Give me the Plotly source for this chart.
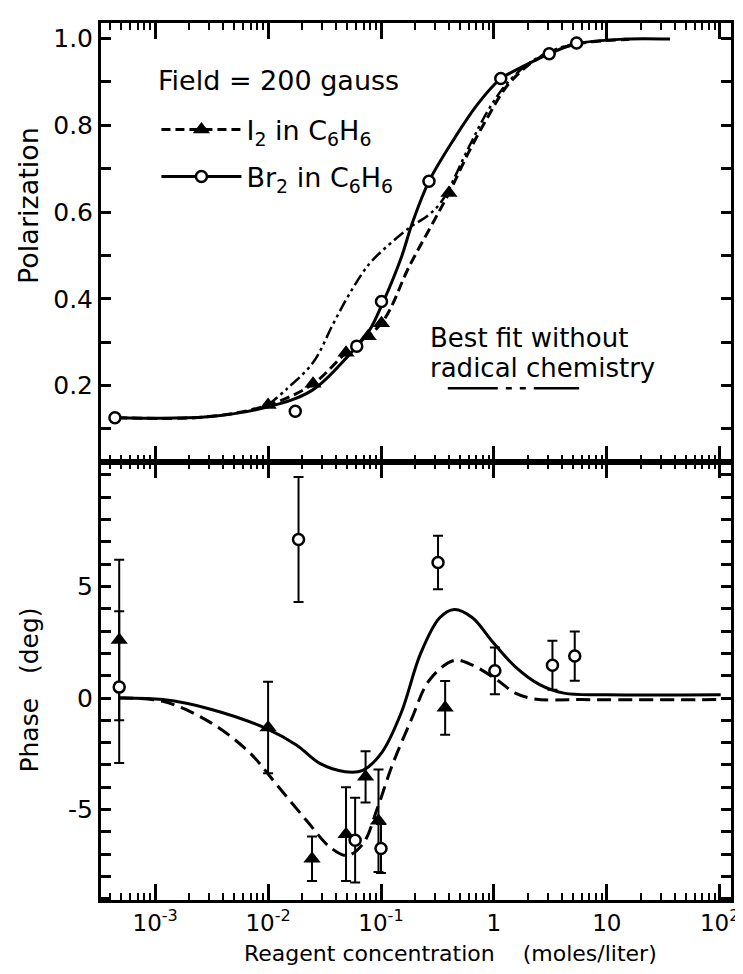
import plotly.graph_objects as go

# ---------------- data ----------------
# Top panel: polarization
br_pol_conc = [4.4e-4, 0.0174, 0.061, 0.101, 0.266, 1.15, 3.09, 5.4]
br_pol_val = [0.126, 0.141, 0.291, 0.394, 0.671, 0.908, 0.965, 0.990]
i2_pol_conc = [0.010, 0.025, 0.049, 0.077, 0.101, 0.40]
i2_pol_val = [0.155, 0.204, 0.276, 0.314, 0.344, 0.644]

br_fit_pol_conc = [4.6e-4, 2.9e-3, 1.0e-2, 2.45e-2, 5.1e-2, 7.8e-2, 0.105, 0.151, 0.19,
                   0.266, 0.447, 0.724, 1.12, 1.91, 3.09, 5.37, 14.5, 36.3]
br_fit_pol_val = [0.126, 0.128, 0.151, 0.189, 0.268, 0.325, 0.394, 0.495, 0.576,
                  0.671, 0.770, 0.850, 0.905, 0.939, 0.965, 0.988, 0.999, 0.999]
i2_fit_pol_conc = [4.6e-4, 2.9e-3, 1.0e-2, 2.5e-2, 4.9e-2, 0.101, 0.178, 0.302, 0.40,
                   0.603, 0.891, 1.29, 2.09, 3.47, 5.5, 9.1, 15.8]
i2_fit_pol_val = [0.126, 0.128, 0.155, 0.204, 0.276, 0.344, 0.475, 0.585, 0.644,
                  0.740, 0.821, 0.889, 0.942, 0.973, 0.988, 0.995, 0.998]
norad_fit_conc = [1.0e-2, 1.46e-2, 2.5e-2, 3.8e-2, 5.3e-2, 7.9e-2, 0.119, 0.179, 0.269,
                  0.353, 0.60, 0.89, 1.29, 2.09, 3.47, 5.5]
norad_fit_val = [0.155, 0.192, 0.253, 0.344, 0.413, 0.481, 0.526, 0.564, 0.595,
                 0.629, 0.750, 0.835, 0.895, 0.945, 0.975, 0.990]

# Bottom panel: phase (deg)
br_ph_conc = [4.8e-4, 0.0186, 0.059, 0.100, 0.32, 1.02, 3.3, 5.2]
br_ph_val = [0.49, 7.1, -6.37, -6.74, 6.07, 1.22, 1.47, 1.88]
br_ph_err = [3.4, 2.8, 1.9, 1.1, 1.2, 1.05, 1.1, 1.1]
i2_ph_conc = [4.8e-4, 0.010, 0.0245, 0.049, 0.073, 0.095, 0.37]
i2_ph_val = [2.6, -1.32, -7.2, -6.1, -3.53, -5.5, -0.44]
i2_ph_err = [3.6, 2.05, 1.0, 2.1, 1.15, 2.3, 1.2]

br_fit_ph_conc = [4.8e-4, 1.17e-3, 3.1e-3, 1.0e-2, 1.78e-2, 2.9e-2, 4.8e-2, 6.9e-2, 0.102,
                  0.151, 0.224, 0.331, 0.447, 0.646, 0.955, 1.55, 2.57, 4.17, 10, 102]
br_fit_ph_val = [0, -0.07, -0.5, -1.4, -2.1, -2.94, -3.3, -3.24, -2.43,
                 -0.66, 1.99, 3.6, 3.97, 3.6, 2.57, 1.4, 0.59, 0.22, 0.15, 0.15]
i2_fit_ph_conc = [4.8e-4, 1.17e-3, 3.1e-3, 6.8e-3, 1.2e-2, 2.2e-2, 3.55e-2, 5.0e-2, 6.9e-2,
                  9.3e-2, 0.126, 0.186, 0.269, 0.447, 0.646, 1.07, 1.55, 2.29, 6.0, 102]
i2_fit_ph_val = [0, -0.15, -1.1, -2.43, -3.9, -5.5, -6.69, -7.06, -6.54,
                 -4.93, -3.0, -0.96, 0.81, 1.69, 1.47, 0.81, 0.22, -0.04, -0.07, -0.07]

x_tick_vals = [1e-3, 1e-2, 1e-1, 1, 10, 100]
x_tick_text = ["10<sup>-3</sup>", "10<sup>-2</sup>", "10<sup>-1</sup>", "1", "10", "10<sup>2</sup>"]
pol_tick_vals = [0.2, 0.4, 0.6, 0.8, 1.0]
pol_tick_text = ["0.2", "0.4", "0.6", "0.8", "1.0"]
ph_tick_vals = [-5, 0, 5]
ph_tick_text = ["-5", "0", "5"]

# ---------------- figure ----------------
FONT = "DejaVu Sans"
BLACK = "black"
LW = 3

fig = go.Figure()

# top panel fits
fig.add_trace(go.Scatter(x=br_fit_pol_conc, y=br_fit_pol_val, mode="lines", line_shape="spline",
                         line=dict(color=BLACK, width=LW), xaxis="x2", yaxis="y2", showlegend=False))
fig.add_trace(go.Scatter(x=i2_fit_pol_conc, y=i2_fit_pol_val, mode="lines", line_shape="spline",
                         line=dict(color=BLACK, width=LW, dash="10px,5px"), xaxis="x2", yaxis="y2",
                         showlegend=False))
fig.add_trace(go.Scatter(x=norad_fit_conc, y=norad_fit_val, mode="lines", line_shape="spline",
                         line=dict(color=BLACK, width=2.5, dash="12px,4px,3px,4px,3px,4px"),
                         xaxis="x2", yaxis="y2", showlegend=False))
# top panel data
fig.add_trace(go.Scatter(x=i2_pol_conc, y=i2_pol_val, mode="markers",
                         marker=dict(symbol="triangle-up", size=15, color=BLACK),
                         xaxis="x2", yaxis="y2", showlegend=False))
fig.add_trace(go.Scatter(x=br_pol_conc, y=br_pol_val, mode="markers",
                         marker=dict(symbol="circle", size=11, color="white",
                                     line=dict(color=BLACK, width=2.5)),
                         xaxis="x2", yaxis="y2", showlegend=False))

# bottom panel fits
fig.add_trace(go.Scatter(x=br_fit_ph_conc, y=br_fit_ph_val, mode="lines", line_shape="spline",
                         line=dict(color=BLACK, width=LW), xaxis="x", yaxis="y", showlegend=False))
fig.add_trace(go.Scatter(x=i2_fit_ph_conc, y=i2_fit_ph_val, mode="lines", line_shape="spline",
                         line=dict(color=BLACK, width=LW, dash="14px,7px"), xaxis="x", yaxis="y",
                         showlegend=False))
# bottom panel data with error bars
fig.add_trace(go.Scatter(x=i2_ph_conc, y=i2_ph_val, mode="markers",
                         marker=dict(symbol="triangle-up", size=15, color=BLACK),
                         error_y=dict(type="data", array=i2_ph_err, color=BLACK, thickness=2, width=5),
                         xaxis="x", yaxis="y", showlegend=False))
fig.add_trace(go.Scatter(x=br_ph_conc, y=br_ph_val, mode="markers",
                         marker=dict(symbol="circle", size=11, color="white",
                                     line=dict(color=BLACK, width=2.5)),
                         error_y=dict(type="data", array=br_ph_err, color=BLACK, thickness=2, width=5),
                         xaxis="x", yaxis="y", showlegend=False))

# legend entries (no data of their own)
fig.add_trace(go.Scatter(x=[None], y=[None], mode="lines+markers",
                         name="I<sub>2</sub> in C<sub>6</sub>H<sub>6</sub>",
                         line=dict(color=BLACK, width=LW, dash="9px,5px"),
                         marker=dict(symbol="triangle-up", size=15, color=BLACK),
                         xaxis="x2", yaxis="y2", legendgroup="a"))
fig.add_trace(go.Scatter(x=[None], y=[None], mode="lines+markers",
                         name="Br<sub>2</sub> in C<sub>6</sub>H<sub>6</sub>",
                         line=dict(color=BLACK, width=LW),
                         marker=dict(symbol="circle", size=11, color="white",
                                     line=dict(color=BLACK, width=2.5)),
                         xaxis="x2", yaxis="y2", legendgroup="b"))

# minor tick positions for log axis
minor_x = []
for dec in [1e-4, 1e-3, 1e-2, 1e-1, 1, 10]:
    for m in range(2, 10):
        minor_x.append(m * dec)

xcommon = dict(type="log", range=[-3.48, 2.10], tickvals=x_tick_vals,
               ticks="inside", ticklen=16, tickwidth=2.5, tickcolor=BLACK,
               showline=True, linewidth=3, linecolor=BLACK, mirror="ticks",
               showgrid=False, zeroline=False,
               minor=dict(tickvals=minor_x, ticks="inside", ticklen=7, tickwidth=2, tickcolor=BLACK,
                          showgrid=False))

fig.update_layout(
    width=743, height=974,
    margin=dict(l=93, r=17, t=12, b=82),
    paper_bgcolor="white", plot_bgcolor="white",
    font=dict(family=FONT, size=24, color=BLACK),
    xaxis=dict(**xcommon, anchor="y", domain=[0, 1], ticktext=x_tick_text,
               tickfont=dict(size=23), ticklabelstandoff=0),
    xaxis2=dict(**xcommon, anchor="y2", domain=[0, 1], matches="x", showticklabels=False),
    yaxis=dict(domain=[0, 0.5], range=[-9.05, 10.6], tickvals=ph_tick_vals, ticktext=ph_tick_text,
               ticks="inside", ticklen=10, tickwidth=2.5, tickcolor=BLACK,
               showline=True, linewidth=3, linecolor=BLACK, mirror="ticks",
               showgrid=False, zeroline=False, tickfont=dict(size=25),
               minor=dict(dtick=1, ticks="inside", ticklen=10, tickwidth=2.5, tickcolor=BLACK,
                          showgrid=False)),
    yaxis2=dict(domain=[0.5, 1], range=[0.025, 1.036], tickvals=pol_tick_vals, ticktext=pol_tick_text,
                ticks="inside", ticklen=10, tickwidth=2.5, tickcolor=BLACK,
                showline=True, linewidth=3, linecolor=BLACK, mirror="ticks",
                showgrid=False, zeroline=False, tickfont=dict(size=25),
                minor=dict(dtick=0.1, ticks="inside", ticklen=10, tickwidth=2.5, tickcolor=BLACK,
                           showgrid=False)),
    legend=dict(x=0.088, y=0.906, xanchor="left", yanchor="top",
                bgcolor="rgba(0,0,0,0)", borderwidth=0,
                font=dict(size=27), itemwidth=80, tracegroupgap=9),
    showlegend=True,
)

annotations = [
    dict(text="Field = 200 gauss", x=0.0868, y=0.935, xref="paper", yref="paper",
         showarrow=False, font=dict(size=27), xanchor="left", yanchor="middle"),
    dict(text="Polarization", x=-0.115, y=0.792, xref="paper", yref="paper", textangle=-90,
         showarrow=False, font=dict(size=27), xanchor="center", yanchor="middle"),
    dict(text="Phase\u00a0\u00a0\u00a0(deg)", x=-0.114, y=0.239, xref="paper", yref="paper",
         textangle=-90, showarrow=False, font=dict(size=25), xanchor="center", yanchor="middle"),
    dict(text="Reagent concentration\u00a0\u00a0\u00a0\u00a0(moles/liter)", x=0.554, y=-0.0614,
         xref="paper", yref="paper", showarrow=False, font=dict(size=22),
         xanchor="center", yanchor="middle"),
    dict(text="Best fit without", x=0.519, y=0.641, xref="paper", yref="paper",
         showarrow=False, font=dict(size=26), xanchor="left", yanchor="middle"),
    dict(text="radical chemistry", x=0.519, y=0.607, xref="paper", yref="paper",
         showarrow=False, font=dict(size=26), xanchor="left", yanchor="middle"),
]
fig.update_layout(annotations=annotations)

fig.add_shape(type="line", xref="paper", yref="paper", x0=0.5505, x1=0.759, y0=0.5836, y1=0.5836,
              line=dict(color=BLACK, width=2.5, dash="50px,8px,6px,8px,6px,8px"))

fig.write_html("out.html")
